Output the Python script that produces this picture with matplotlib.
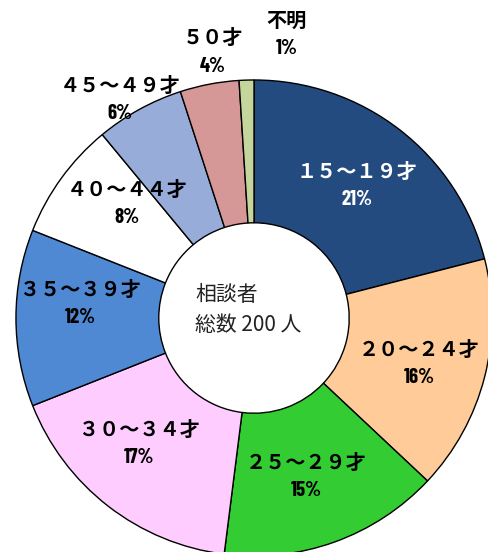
import numpy as np
import matplotlib.pyplot as plt

# age groups of consultants (share in %)
categories = ['１５～１９才', '２０～２４才', '２５～２９才', '３０～３４才', '３５～３９才',
              '４０～４４才', '４５～４９才', '５０才', '不明']
shares = [21, 16, 15, 17, 12, 8, 6, 4, 1]
colors = ['#234b7f', '#ffcc99', '#33cc33', '#ffccff', '#4f88d3',
          '#ffffff', '#97acd8', '#d69896', '#c4d69c']
center_lines = ['相談者', '総数 200 人']

# label layout: radial distance (in units of outer radius) and angle tweak (deg)
label_r = [0.705, 0.72, 0.70, 0.716, 0.734, 0.72, 1.079, 1.131, 1.20]
label_dang = [0, -1, -1.5, -4.6, -4.9, -6, 2.7, -2, -8.4]

plt.rcParams['font.family'] = ['Noto Sans CJK JP', 'DejaVu Sans']

fig = plt.figure(figsize=(4.88, 5.52), dpi=100)
ax = fig.add_axes([0, 0, 1, 1])

wedges, _ = ax.pie(shares, colors=colors, startangle=90, counterclock=False,
                   radius=1.0, wedgeprops=dict(width=0.60, edgecolor='black', linewidth=1.0))

for w, cat, pct, r, da in zip(wedges, categories, shares, label_r, label_dang):
    mid = np.deg2rad((w.theta1 + w.theta2) / 2 + da)
    x, y = r * np.cos(mid), r * np.sin(mid)
    col = 'white' if cat == categories[0] else 'black'
    ax.text(x, y + 0.059, cat, ha='center', va='center', fontsize=14.5,
            fontweight='bold', color=col)
    ax.text(x, y - 0.059, f'{pct}%', ha='center', va='center', fontsize=15,
            fontweight='bold', color=col,
            family=['Barlow Condensed', 'DejaVu Sans'])

ax.text(-0.248, 0.097, center_lines[0], ha='left', va='center', fontsize=15, color='#222222')
ax.text(-0.248, -0.029, center_lines[1], ha='left', va='center', fontsize=15, color='#222222')

ax.set_xlim(-1.067, 0.983)
ax.set_ylim(-0.983, 1.336)
ax.set_aspect('equal')
ax.axis('off')

fig.savefig('out.png', dpi=100)
